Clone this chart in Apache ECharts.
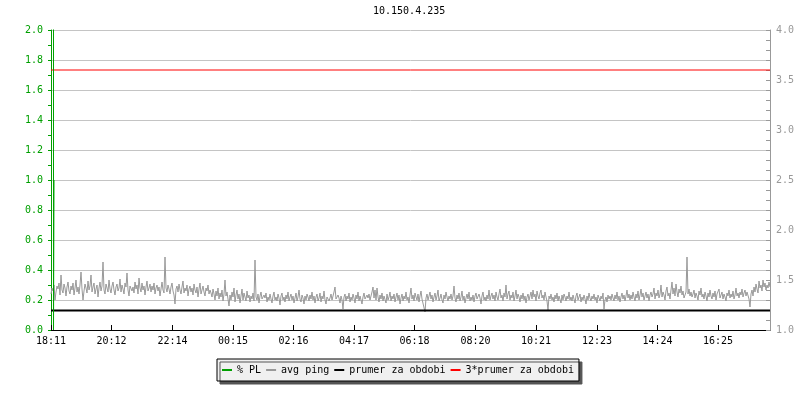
<!DOCTYPE html>
<html>
<head>
<meta charset="utf-8">
<script src="https://cdn.jsdelivr.net/npm/echarts@6/dist/echarts.min.js"></script>
<style>html,body{margin:0;padding:0;background:#fff}#c{width:800px;height:400px}</style>
</head>
<body>
<div id="c"></div>
<script>
var titleText = '10.150.4.235';
var startTime = '18:11';
var stepMinutes = 2;
var tickLabels = ['18:11','20:12','22:14','00:15','02:16','04:17','06:18','08:20','10:21','12:23','14:24','16:25'];
var seriesNames = ['% PL', 'avg ping', 'prumer za obdobi', '3*prumer za obdobi'];
// avg ping (right axis), one value every 2 minutes
var pingValues = [
1.36,1.42,1.39,1.45,1.30,1.38,1.44,1.41,1.47,1.35,1.55,1.40,1.37,1.46,1.42,1.34,1.43,1.48,1.39,1.36,
1.44,1.40,1.47,1.35,1.42,1.50,1.38,1.43,1.36,1.45,1.58,1.41,1.30,1.39,1.46,1.42,1.37,1.49,1.40,1.44,
1.55,1.38,1.43,1.47,1.36,1.41,1.45,1.33,1.42,1.48,1.39,1.44,1.68,1.40,1.36,1.46,1.42,1.38,1.50,1.41,
1.37,1.44,1.48,1.40,1.35,1.43,1.46,1.39,1.42,1.51,1.38,1.45,1.41,1.36,1.47,1.43,1.57,1.40,1.34,1.44,
1.46,1.39,1.43,1.37,1.48,1.41,1.45,1.36,1.52,1.42,1.38,1.47,1.40,1.44,1.35,1.43,1.49,1.39,1.42,1.46,
1.38,1.44,1.40,1.47,1.36,1.42,1.45,1.39,1.43,1.34,1.41,1.48,1.40,1.37,1.73,1.42,1.38,1.45,1.41,1.36,
1.43,1.47,1.39,1.35,1.26,1.41,1.44,1.38,1.46,1.40,1.36,1.43,1.49,1.37,1.42,1.39,1.45,1.34,1.41,1.44,
1.38,1.42,1.35,1.46,1.40,1.37,1.43,1.33,1.41,1.47,1.36,1.40,1.44,1.38,1.34,1.42,1.39,1.45,1.36,1.40,
1.37,1.33,1.41,1.36,1.30,1.39,1.34,1.42,1.31,1.37,1.33,1.40,1.29,1.36,1.50,1.34,1.38,1.31,1.24,1.35,
1.30,1.38,1.33,1.42,1.28,1.35,1.40,1.31,1.36,1.27,1.34,1.41,1.30,1.37,1.33,1.29,1.39,1.32,1.35,1.28,
1.34,1.31,1.37,1.29,1.70,1.33,1.30,1.36,1.27,1.34,1.38,1.31,1.29,1.35,1.32,1.37,1.28,1.33,1.30,1.36,
1.31,1.27,1.34,1.38,1.30,1.33,1.29,1.36,1.32,1.25,1.34,1.37,1.30,1.33,1.28,1.35,1.31,1.38,1.29,1.33,
1.36,1.30,1.34,1.27,1.32,1.37,1.29,1.33,1.40,1.31,1.28,1.35,1.32,1.26,1.34,1.30,1.36,1.33,1.29,1.35,
1.31,1.38,1.30,1.34,1.27,1.33,1.36,1.29,1.32,1.37,1.28,1.34,1.31,1.39,1.30,1.26,1.33,1.35,1.29,1.32,
1.36,1.30,1.34,1.38,1.43,1.31,1.29,1.35,1.32,1.27,1.34,1.30,1.21,1.33,1.36,1.29,1.34,1.31,1.37,1.28,
1.33,1.30,1.36,1.32,1.27,1.35,1.31,1.38,1.29,1.34,1.30,1.26,1.33,1.37,1.31,1.29,1.35,1.32,1.36,1.30,
1.34,1.38,1.43,1.32,1.40,1.30,1.42,1.33,1.28,1.35,1.31,1.37,1.29,1.34,1.32,1.27,1.36,1.30,1.33,1.38,
1.29,1.34,1.31,1.36,1.28,1.33,1.37,1.30,1.35,1.26,1.32,1.36,1.29,1.34,1.31,1.38,1.30,1.33,1.27,1.35,
1.42,1.31,1.35,1.29,1.37,1.33,1.30,1.36,1.28,1.34,1.39,1.31,1.33,1.29,1.18,1.32,1.36,1.30,1.34,1.38,
1.31,1.35,1.28,1.33,1.37,1.30,1.34,1.40,1.29,1.32,1.36,1.30,1.27,1.35,1.31,1.38,1.33,1.29,1.34,1.31,
1.36,1.30,1.34,1.44,1.32,1.28,1.35,1.31,1.37,1.29,1.33,1.39,1.30,1.34,1.27,1.32,1.36,1.31,1.38,1.29,
1.33,1.30,1.35,1.28,1.34,1.37,1.31,1.29,1.36,1.32,1.26,1.34,1.38,1.30,1.33,1.29,1.35,1.31,1.40,1.30,
1.34,1.37,1.31,1.35,1.29,1.38,1.33,1.30,1.36,1.41,1.32,1.35,1.29,1.37,1.33,1.45,1.31,1.36,1.39,1.30,
1.35,1.32,1.38,1.29,1.34,1.40,1.31,1.36,1.33,1.28,1.35,1.31,1.37,1.30,1.34,1.27,1.33,1.36,1.30,1.34,
1.38,1.31,1.40,1.33,1.36,1.29,1.39,1.34,1.31,1.37,1.40,1.32,1.35,1.30,1.38,1.33,1.29,1.20,1.34,1.31,
1.36,1.30,1.33,1.28,1.35,1.31,1.37,1.29,1.34,1.32,1.27,1.35,1.30,1.36,1.33,1.29,1.34,1.31,1.38,1.30,
1.33,1.29,1.35,1.31,1.27,1.34,1.37,1.30,1.32,1.36,1.28,1.33,1.30,1.35,1.31,1.26,1.34,1.30,1.37,1.32,
1.29,1.34,1.31,1.36,1.30,1.33,1.27,1.35,1.32,1.29,1.34,1.31,1.37,1.21,1.30,1.33,1.28,1.35,1.31,1.34,
1.30,1.36,1.32,1.29,1.35,1.31,1.38,1.30,1.34,1.28,1.33,1.37,1.31,1.35,1.29,1.34,1.40,1.32,1.36,1.30,
1.35,1.31,1.38,1.33,1.29,1.36,1.32,1.39,1.30,1.35,1.41,1.33,1.37,1.30,1.34,1.38,1.32,1.36,1.29,1.35,
1.38,1.33,1.36,1.42,1.31,1.37,1.34,1.40,1.32,1.36,1.45,1.33,1.38,1.35,1.30,1.39,1.43,1.34,1.37,1.31,
1.40,1.48,1.36,1.42,1.34,1.46,1.38,1.33,1.41,1.37,1.44,1.35,1.39,1.32,1.30,1.38,1.73,1.36,1.41,1.34,
1.38,1.33,1.36,1.40,1.32,1.37,1.34,1.30,1.39,1.35,1.42,1.33,1.36,1.31,1.38,1.34,1.29,1.37,1.33,1.40,
1.34,1.31,1.37,1.33,1.39,1.30,1.36,1.34,1.41,1.32,1.35,1.38,1.31,1.36,1.33,1.29,1.37,1.34,1.40,1.32,
1.36,1.33,1.39,1.31,1.35,1.42,1.34,1.37,1.32,1.38,1.35,1.41,1.33,1.37,1.40,1.34,1.38,1.36,1.31,1.23,
1.36,1.40,1.34,1.43,1.38,1.46,1.41,1.37,1.49,1.42,1.45,1.39,1.50,1.43,1.47,1.40,1.45,1.42,1.48,1.43
];
// % PL (left axis): minute offsets and values
var plMinutes = [5, 5, 6, 6];
var plValues = [2.2, 0, 0, 1.0];
var avgValue = 1.195;      // prumer za obdobi (right axis)
var tripleAvgValue = 3.6;  // 3*prumer za obdobi (right axis)

function toMin(s){ var p = s.split(':'); return (+p[0])*60 + (+p[1]); }
var start = toMin(startTime);
var tickMinutes = tickLabels.map(function(s){ return (toMin(s) - start + 1440) % 1440; });
var xMax = (pingValues.length - 1) * stepMinutes;

var FONT = 'DejaVu Sans Mono';
var GREEN = '#00a000';
var GRAY = '#999999';

var chart = echarts.init(document.getElementById('c'), null, {renderer: 'canvas'});
chart.setOption({
  animation: false,
  backgroundColor: '#ffffff',
  title: {
    text: titleText, left: 373, top: 6, padding: 0,
    textStyle: {fontFamily: FONT, fontSize: 10, fontWeight: 'normal', color: '#000'}
  },
  legend: {
    data: seriesNames,
    left: 217, top: 359,
    padding: [6, 5, 6, 5],
    itemGap: 5, itemWidth: 10, itemHeight: 2, icon: 'rect',
    backgroundColor: '#f0f0f0', borderColor: '#000', borderWidth: 1,
    shadowColor: '#555555', shadowOffsetX: 3, shadowOffsetY: 3, shadowBlur: 0,
    textStyle: {fontFamily: FONT, fontSize: 10, color: '#000'}
  },
  grid: {left: 51, right: 30, top: 30, bottom: 70, containLabel: false},
  xAxis: {
    type: 'value', min: 0, max: xMax,
    axisLine: {show: true, lineStyle: {color: '#000', width: 1}},
    axisTick: {show: true, inside: true, length: 5, customValues: tickMinutes, lineStyle: {color: '#000'}},
    axisLabel: {
      customValues: tickMinutes, margin: 6,
      fontFamily: FONT, fontSize: 10, color: '#000',
      formatter: function(v){ var k = tickMinutes.indexOf(v); return k >= 0 ? tickLabels[k] : ''; }
    },
    splitLine: {show: false}
  },
  yAxis: [{
    type: 'value', min: 0, max: 2, interval: 0.2, position: 'left',
    axisLine: {show: true, lineStyle: {color: GREEN, width: 1}},
    axisTick: {show: true, length: 3, lineStyle: {color: GREEN}},
    minorTick: {show: true, splitNumber: 2, length: 3, lineStyle: {color: GREEN}},
    axisLabel: {margin: 8, fontFamily: FONT, fontSize: 10, color: GREEN,
      formatter: function(v){ return v.toFixed(1); }},
    splitLine: {show: true, lineStyle: {color: '#c4c4c4', width: 1}}
  }, {
    type: 'value', min: 1, max: 4, interval: 0.5, position: 'right',
    axisLine: {show: true, lineStyle: {color: GRAY, width: 1}},
    axisTick: {show: true, inside: true, length: 4, lineStyle: {color: GRAY}},
    minorTick: {show: true, splitNumber: 5, length: 4, lineStyle: {color: GRAY}},
    axisLabel: {margin: 6, fontFamily: FONT, fontSize: 10, color: GRAY,
      formatter: function(v){ return v.toFixed(1); }},
    splitLine: {show: false}
  }],
  series: [{
    name: seriesNames[0], type: 'line', yAxisIndex: 0, symbol: 'none', color: GREEN,
    lineStyle: {width: 1, color: GREEN}, z: 5,
    data: plMinutes.map(function(m, i){ return [m, plValues[i]]; })
  }, {
    name: seriesNames[1], type: 'line', yAxisIndex: 1, symbol: 'none', color: GRAY,
    lineStyle: {width: 1, color: GRAY}, sampling: null,
    data: pingValues.map(function(v, i){ return [i * stepMinutes, v]; })
  }, {
    name: seriesNames[2], type: 'line', yAxisIndex: 1, symbol: 'none', color: '#000',
    lineStyle: {width: 2, color: '#000'},
    data: [[0, avgValue], [xMax, avgValue]]
  }, {
    name: seriesNames[3], type: 'line', yAxisIndex: 1, symbol: 'none', color: '#ff0000',
    lineStyle: {width: 1, color: '#ff0000'},
    data: [[0, tripleAvgValue], [xMax, tripleAvgValue]]
  }]
});
</script>
</body>
</html>
